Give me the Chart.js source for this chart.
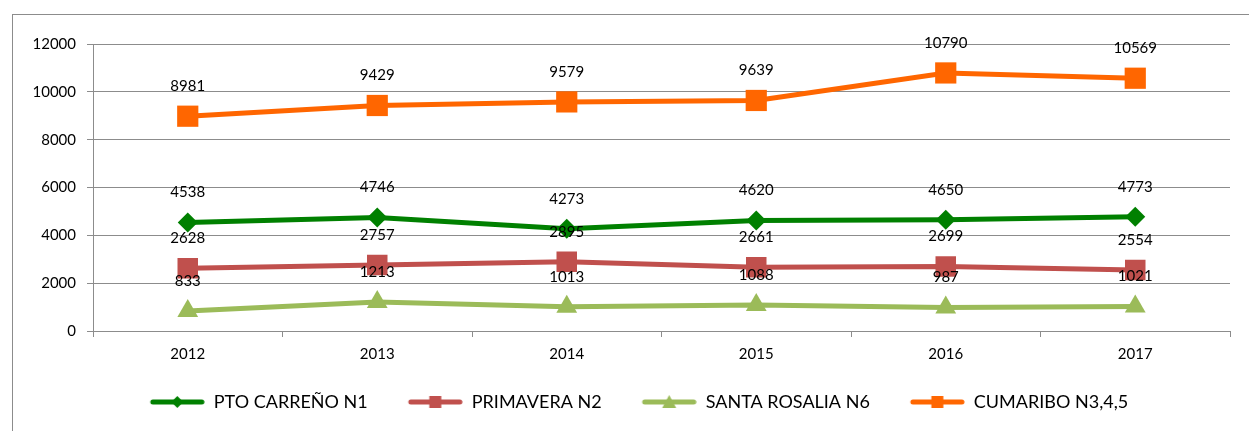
<!DOCTYPE html>
<html>
<head>
<meta charset="utf-8">
<script src="https://cdn.jsdelivr.net/npm/chart.js@4.4.0/dist/chart.umd.min.js"></script>
<style>
  html, body { margin: 0; padding: 0; background: #fff; }
  #wrap { width: 1249px; height: 431px; position: relative; }
</style>
</head>
<body>
<div id="wrap"><canvas id="myChart"></canvas></div>
<script>
// data
const years = ['2012', '2013', '2014', '2015', '2016', '2017'];
const ptoCarreno = [4538, 4746, 4273, 4620, 4650, 4773];
const primavera = [2628, 2757, 2895, 2661, 2699, 2554];
const santaRosalia = [833, 1213, 1013, 1088, 987, 1021];
const cumaribo = [8981, 9429, 9579, 9639, 10790, 10569];
const yTicks = [0, 2000, 4000, 6000, 8000, 10000, 12000];

const FONT = "Lato, 'Liberation Sans', sans-serif";
const ICON_GAP = 18; // empty room left of each legend line

// legend icon: a short line with the marker in the middle
function legendIcon(color, shape) {
    const c = document.createElement('canvas');
    c.width = 55 + ICON_GAP; c.height = 16;
    const g = c.getContext('2d');
    g.translate(ICON_GAP, 0);
    g.strokeStyle = color;
    g.fillStyle = color;
    g.lineWidth = 5;
    g.lineCap = 'round';
    g.beginPath();
    g.moveTo(3, 8); g.lineTo(52, 8);
    g.stroke();
    g.beginPath();
    if (shape === 'diamond') {
        g.moveTo(27.5, 2); g.lineTo(33.5, 8); g.lineTo(27.5, 14); g.lineTo(21.5, 8);
    } else if (shape === 'square') {
        g.rect(21.5, 2, 12, 12);
    } else {
        g.moveTo(27.5, 1); g.lineTo(34.5, 14); g.lineTo(20.5, 14);
    }
    g.closePath();
    g.fill();
    return c;
}

// value labels above each point
const valueLabels = {
    id: 'valueLabels',
    afterDatasetsDraw(chart) {
        const ctx = chart.ctx;
        ctx.save();
        ctx.font = '15px ' + FONT;
        ctx.fillStyle = '#000';
        ctx.textAlign = 'center';
        ctx.textBaseline = 'middle';
        chart.data.datasets.forEach((ds, i) => {
            chart.getDatasetMeta(i).data.forEach((pt, j) => {
                ctx.fillText(ds.data[j], pt.x, pt.y - 30);
            });
        });
        ctx.restore();
    }
};

// grey frame round the chart, and legend nudged right like the original
const frame = {
    id: 'frame',
    afterLayout(chart) {
        chart.legend.left += 15;
        chart.legend.right += 15;
    },
    beforeDraw(chart) {
        const ctx = chart.ctx;
        ctx.save();
        ctx.strokeStyle = '#8c8c8c';
        ctx.lineWidth = 1;
        ctx.strokeRect(12.5, 14.5, 1300, 500);
        ctx.restore();
    }
};

const lineCtx = document.getElementById('myChart').getContext('2d');
const myChart = new Chart(lineCtx, {
    type: 'line',
    data: {
        labels: years,
        datasets: [
            {
                label: 'PTO CARREÑO N1',
                data: ptoCarreno,
                borderColor: '#008000',
                backgroundColor: '#008000',
                borderWidth: 5,
                pointBorderWidth: 0,
                pointStyle: 'rectRot',
                pointRadius: 10,
                pointHoverRadius: 10,
                icon: legendIcon('#008000', 'diamond')
            },
            {
                label: 'PRIMAVERA N2',
                data: primavera,
                borderColor: '#C0504D',
                backgroundColor: '#C0504D',
                borderWidth: 5,
                pointBorderWidth: 0,
                pointStyle: 'rect',
                pointRadius: 14.5,
                pointHoverRadius: 14.5,
                icon: legendIcon('#C0504D', 'square')
            },
            {
                label: 'SANTA ROSALIA N6',
                data: santaRosalia,
                borderColor: '#9BBB59',
                backgroundColor: '#9BBB59',
                borderWidth: 5,
                pointBorderWidth: 0,
                pointStyle: 'triangle',
                pointRadius: 12,
                pointHoverRadius: 12,
                icon: legendIcon('#9BBB59', 'triangle')
            },
            {
                label: 'CUMARIBO N3,4,5',
                data: cumaribo,
                borderColor: '#FF6600',
                backgroundColor: '#FF6600',
                borderWidth: 5,
                pointBorderWidth: 0,
                pointStyle: 'rect',
                pointRadius: 15,
                pointHoverRadius: 15,
                icon: legendIcon('#FF6600', 'square')
            }
        ]
    },
    options: {
        responsive: true,
        maintainAspectRatio: false,
        animation: false,
        layout: {
            padding: { left: 0, right: 19, top: 44, bottom: 10 }
        },
        scales: {
            x: {
                offset: true,
                grid: {
                    offset: true,
                    drawOnChartArea: false,
                    drawTicks: true,
                    tickLength: 6,
                    color: '#8c8c8c'
                },
                border: { display: true, color: '#8c8c8c', width: 1 },
                ticks: {
                    color: '#000',
                    padding: 8,
                    font: { family: FONT, size: 15 }
                }
            },
            y: {
                min: 0,
                max: 12000,
                afterFit(scale) { scale.width = 93; },
                afterBuildTicks(scale) { scale.ticks = yTicks.map(v => ({ value: v })); },
                grid: {
                    color: '#8c8c8c',
                    lineWidth: 1,
                    drawTicks: true,
                    tickLength: 6
                },
                border: { display: true, color: '#8c8c8c', width: 1 },
                ticks: {
                    color: '#000',
                    padding: 11,
                    font: { family: FONT, size: 15 },
                    callback: v => String(v)
                }
            }
        },
        plugins: {
            legend: {
                display: true,
                position: 'bottom',
                labels: {
                    usePointStyle: true,
                    pointStyleWidth: 55 + ICON_GAP,
                    boxHeight: 16,
                    padding: 22,
                    color: '#000',
                    font: { family: FONT, size: 18 },
                    generateLabels(chart) {
                        return chart.data.datasets.map((ds, i) => ({
                            text: ds.label,
                            pointStyle: ds.icon,
                            fillStyle: ds.borderColor,
                            strokeStyle: ds.borderColor,
                            lineWidth: 0,
                            fontColor: '#000',
                            hidden: false,
                            datasetIndex: i
                        }));
                    }
                }
            },
            tooltip: { enabled: false }
        }
    },
    plugins: [frame, valueLabels]
});
</script>
</body>
</html>
